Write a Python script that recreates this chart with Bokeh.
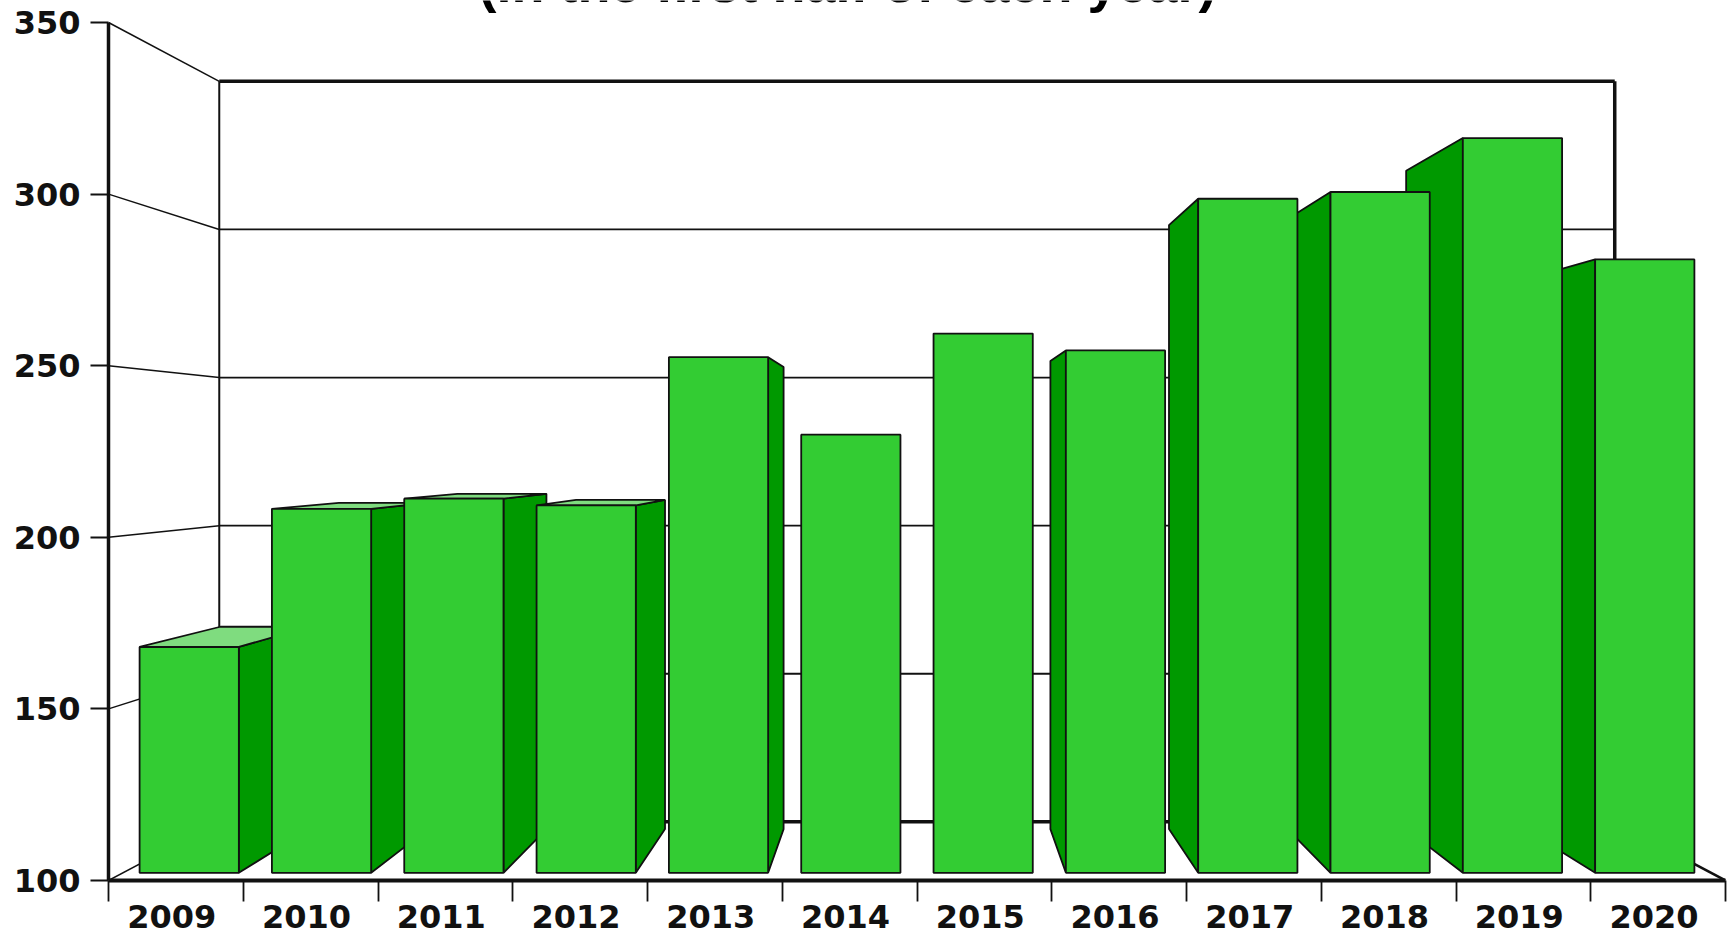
from bokeh.plotting import figure
from bokeh.models import Range1d, LinearAxis, FixedTicker, NumeralTickFormatter, Label
from bokeh.embed import file_html
from bokeh.resources import INLINE

title_text = "(in the first half of each year)"
years = [2009, 2010, 2011, 2012, 2013, 2014, 2015, 2016, 2017, 2018, 2019, 2020]
values = [167, 208, 211, 209, 253, 230, 260, 255, 300, 302, 318, 282]
y_ticks = [100, 150, 200, 250, 300, 350]

# perspective model of the 3D box
X0, X1, Y0, Y1 = 2009, 2021, 100, 350
VPX, VPY = 2015, 224.8
WALL, FRONT, BACK = 0.863, 0.982, 0.88
BAR_W = 0.75
FACE, SIDE, TOP = "#33cc33", "#009900", "#7fdc7f"
INK = "#111111"


def px(x, s):
    return VPX + (x - VPX) * s


def py(y, s):
    return VPY + (y - VPY) * s


# the frame reaches the top of the page, above the 350 tick, so the title can sit in it
p = figure(width=1736, height=936, output_backend="svg", toolbar_location=None,
           x_range=Range1d(X0, X1), y_range=Range1d(Y0, 356.41),
           min_border_left=108, min_border_right=11, min_border_top=0, min_border_bottom=56,
           x_axis_location=None, y_axis_location=None, outline_line_color=None,
           background_fill_color="white", border_fill_color="white")
p.xgrid.visible = False
p.ygrid.visible = False
p.styles = {"position": "absolute", "top": "0px", "left": "0px"}

# back wall
for y in y_ticks:
    thick = y in (Y0, Y1)
    p.line([X0, px(X0, WALL)], [y, py(y, WALL)], line_color=INK, line_width=1.5)
    p.line([px(X0, WALL), px(X1, WALL)], [py(y, WALL)] * 2, line_color=INK,
           line_width=3.5 if thick else 1.8)
p.line([X1, px(X1, WALL)], [Y0, py(Y0, WALL)], line_color=INK, line_width=2.5)
p.line([px(X0, WALL)] * 2, [py(Y0, WALL), py(Y1, WALL)], line_color=INK, line_width=2)
p.line([px(X1, WALL)] * 2, [py(Y0, WALL), py(Y1, WALL)], line_color=INK, line_width=3.5)

# bars, outermost first so that the nearer ones overlap them
order = sorted(range(len(years)), key=lambda i: -abs(years[i] + 0.5 - VPX))
for i in order:
    yr, v = years[i], values[i]
    l, r = yr + 0.5 - BAR_W / 2, yr + 0.5 + BAR_W / 2
    # visible side: the one facing the centre of the box
    e = r if r < VPX else l
    if abs(e - VPX) > 0.5:
        p.patch([px(e, FRONT), px(e, BACK), px(e, BACK), px(e, FRONT)],
                [py(Y0, FRONT), py(Y0, BACK), py(v, BACK), py(v, FRONT)],
                fill_color=SIDE, line_color=INK, line_width=1.8)
    if v < VPY:
        p.patch([px(l, FRONT), px(l, BACK), px(r, BACK), px(r, FRONT)],
                [py(v, FRONT), py(v, BACK), py(v, BACK), py(v, FRONT)],
                fill_color=TOP, line_color=INK, line_width=1.8)
    p.quad(left=[px(l, FRONT)], right=[px(r, FRONT)], bottom=[py(Y0, FRONT)], top=[py(v, FRONT)],
           fill_color=FACE, line_color=INK, line_width=1.8)

# axes
yax = LinearAxis(ticker=FixedTicker(ticks=y_ticks), bounds=(Y0, Y1))
yax.axis_line_color = INK
yax.axis_line_width = 3.5
yax.major_tick_line_color = INK
yax.major_tick_line_width = 1.8
yax.major_tick_in = 0
yax.major_tick_out = 18
yax.minor_tick_line_color = None
yax.major_label_standoff = 10
yax.major_label_text_font = "DejaVu Sans"
yax.major_label_text_font_style = "bold"
yax.major_label_text_font_size = "32px"
yax.major_label_text_color = INK
p.add_layout(yax, "left")

xax = LinearAxis(ticker=FixedTicker(ticks=[y + 0.47 for y in years], minor_ticks=years + [years[-1] + 1]),
                 formatter=NumeralTickFormatter(format="0"))
xax.axis_line_color = INK
xax.axis_line_width = 4
xax.major_tick_line_color = None
xax.major_tick_in = 0
xax.major_tick_out = 0
xax.minor_tick_line_color = INK
xax.minor_tick_line_width = 1.8
xax.minor_tick_in = 0
xax.minor_tick_out = 21
xax.major_label_standoff = 3
xax.major_label_text_font = "DejaVu Sans"
xax.major_label_text_font_style = "bold"
xax.major_label_text_font_size = "32px"
xax.major_label_text_color = INK
p.add_layout(xax, "below")

p.add_layout(Label(x=739, y=898, x_units="screen", y_units="screen", text=title_text,
                   text_font="Liberation Sans", text_font_style="bold", text_font_size="54px",
                   text_color="#000000", text_align="center", text_baseline="alphabetic"))

open("out.html", "w").write(file_html(p, INLINE))
